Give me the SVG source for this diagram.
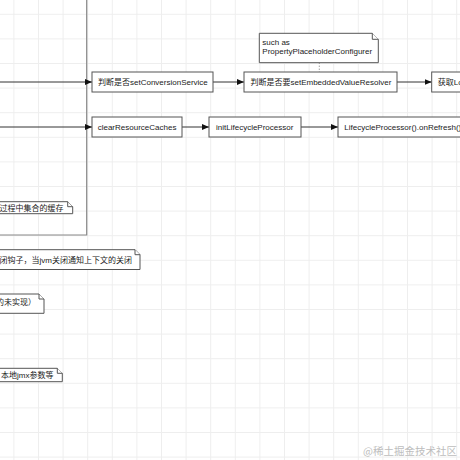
<svg xmlns="http://www.w3.org/2000/svg" width="460" height="460" viewBox="0 0 460 460">
<style>
.box{fill:#fff;stroke:#555;stroke-width:1}
.note{fill:#fff;stroke:#555;stroke-width:1}
.t{font-family:"Liberation Sans","Noto Sans CJK SC",sans-serif;font-size:8px;fill:#222}
.edge{stroke:#333;stroke-width:1;fill:none}
.frame{fill:none;stroke:#888;stroke-width:1.2}
</style>
<defs>
<pattern id="grid" x="13.4" y="13.8" width="24.6" height="24.6" patternUnits="userSpaceOnUse">
<path d="M0.5 0V24.6M0 0.5H24.6" stroke="#eeeeee" stroke-width="1" fill="none"/>
</pattern>
<marker id="arr" markerWidth="7" markerHeight="6" refX="7" refY="3" orient="auto" markerUnits="userSpaceOnUse">
<path d="M0 0L7 3L0 6Z" fill="#111"/>
</marker>
</defs>
<rect width="460" height="460" fill="#fff"/>
<rect width="460" height="460" fill="url(#grid)"/>

<g id="frame">
<path class="frame" d="M86.7 -2V235H-2"/>
</g>

<g id="connectors">
<line class="edge" x1="-2" y1="82" x2="92" y2="82" marker-end="url(#arr)"/>
<line class="edge" x1="213" y1="82" x2="244" y2="82" marker-end="url(#arr)"/>
<line class="edge" x1="397" y1="82" x2="431.7" y2="82" marker-end="url(#arr)"/>
<line class="edge" x1="-2" y1="127" x2="92" y2="127" marker-end="url(#arr)"/>
<line class="edge" x1="182" y1="127" x2="209" y2="127" marker-end="url(#arr)"/>
<line class="edge" x1="301" y1="127" x2="338" y2="127" marker-end="url(#arr)"/>
<line x1="319.3" y1="62.7" x2="319.3" y2="72" stroke="#777" stroke-width="1" stroke-dasharray="1,2"/>
</g>

<g id="n_setConversionService">
<rect class="box" x="92" y="72" width="121" height="20"/>
<text class="t" x="98" y="85">判断是否setConversionService</text>
</g>
<g id="n_setEmbeddedValueResolver">
<rect class="box" x="244" y="72" width="153" height="20"/>
<text class="t" x="250.5" y="85">判断是否要setEmbeddedValueResolver</text>
</g>
<g id="n_getLo">
<rect class="box" x="431.7" y="72" width="60" height="20"/>
<text class="t" x="437.7" y="85">获取Lo</text>
</g>
<g id="n_clearResourceCaches">
<rect class="box" x="92" y="117" width="90" height="20"/>
<text class="t" x="97.7" y="130">clearResourceCaches</text>
</g>
<g id="n_initLifecycleProcessor">
<rect class="box" x="209" y="117" width="92" height="20"/>
<text class="t" x="216" y="130">initLifecycleProcessor</text>
</g>
<g id="n_onRefresh">
<rect class="box" x="338" y="117" width="140" height="20"/>
<text class="t" x="344.3" y="130">LifecycleProcessor().onRefresh()</text>
</g>

<g id="note_such_as">
<path class="note" d="M259.3 33.3H372.3L378.3 39.3V62.7H259.3Z"/>
<path class="note" d="M372.3 33.3V39.3H378.3"/>
<text class="t" x="262.3" y="44.5">such as</text>
<text class="t" x="262.3" y="53.5">PropertyPlaceholderConfigurer</text>
</g>
<g id="note_cache">
<path class="note" d="M-2 201.7H67.7L72.7 206.7V213.7H-2Z"/>
<path class="note" d="M67.7 201.7V206.7H72.7"/>
<text class="t" x="63.5" y="211" text-anchor="end">过程中集合的缓存</text>
</g>
<g id="note_shutdown">
<path class="note" d="M-2 249.7H135L140 254.7V269.5H-2Z"/>
<path class="note" d="M135 249.7V254.7H140"/>
<text class="t" x="132" y="262.5" text-anchor="end">闭钩子，当jvm关闭通知上下文的关闭</text>
</g>
<g id="note_unimpl">
<path class="note" d="M-2 294H39L44 299V313.3H-2Z"/>
<path class="note" d="M39 294V299H44"/>
<text class="t" x="36" y="305" text-anchor="end">的未实现）</text>
</g>
<g id="note_jmx">
<path class="note" d="M-2 368.3H57.3L62.3 373.3V381.7H-2Z"/>
<path class="note" d="M57.3 368.3V373.3H62.3"/>
<text class="t" x="53.5" y="378" text-anchor="end">本地jmx参数等</text>
</g>

<text x="457" y="455" text-anchor="end" font-family="Noto Sans CJK SC, sans-serif" font-size="10.5" fill="#bdbdbd">@稀土掘金技术社区</text>
</svg>
